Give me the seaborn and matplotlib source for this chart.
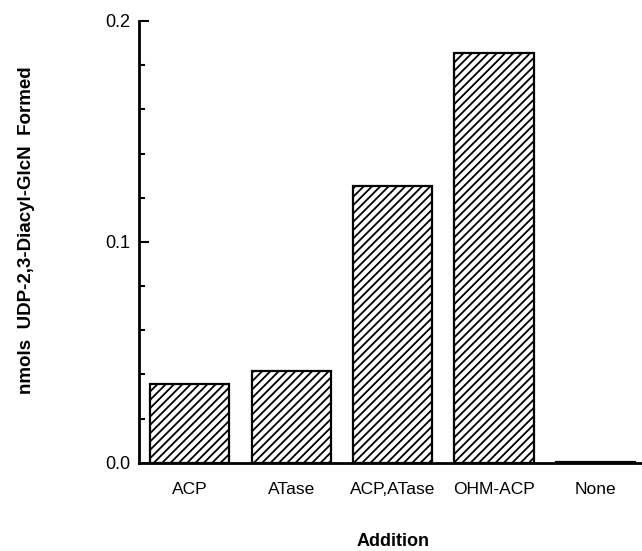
import numpy as np
import pandas as pd
import matplotlib
matplotlib.use("Agg")
import matplotlib.pyplot as plt
from matplotlib.ticker import MultipleLocator
import seaborn as sns

# ------------------ Data ------------------
additions = ["ACP", "ATase", "ACP,ATase", "OHM-ACP", "None"]
formed = [0.0357, 0.0415, 0.1253, 0.1854, 0.0006]

df = pd.DataFrame({"Addition": additions, "Formed": formed})

# ------------------ Plot ------------------
sns.set_style("ticks")
plt.rcParams["font.family"] = ["Liberation Sans", "DejaVu Sans"]
plt.rcParams["hatch.linewidth"] = 1.3
plt.rcParams["text.color"] = "black"
plt.rcParams["axes.labelcolor"] = "black"
plt.rcParams["xtick.color"] = "black"
plt.rcParams["ytick.color"] = "black"

fig = plt.figure(figsize=(6.42, 5.51), dpi=100)
ax = fig.add_axes([0.2165, 0.16, 0.79, 0.802])

sns.barplot(data=df, x="Addition", y="Formed", order=additions, ax=ax,
            color="white", edgecolor="black", linewidth=1.6, width=0.78,
            hatch="////", saturation=1)

ax.set_xlim(-0.5, 4.5)
ax.set_ylim(0, 0.2)
ax.yaxis.set_major_locator(MultipleLocator(0.1))
ax.yaxis.set_minor_locator(MultipleLocator(0.02))
ax.yaxis.set_major_formatter(plt.FuncFormatter(lambda v, p: f"{v:.1f}"))

ax.tick_params(axis="y", which="major", direction="in", length=7, width=1.5,
               labelsize=13, pad=6)
ax.tick_params(axis="y", which="minor", direction="in", length=4, width=1.5)
ax.tick_params(axis="x", length=0, labelsize=12.5, pad=14)

for side in ["top", "right"]:
    ax.spines[side].set_visible(False)
for side in ["left", "bottom"]:
    ax.spines[side].set_linewidth(2)
    ax.spines[side].set_color("black")

ax.set_xlabel("Addition", fontsize=13, fontweight="bold", labelpad=26)
ax.set_ylabel("nmols  UDP-2,3-Diacyl-GlcN  Formed", fontsize=13.5,
              fontweight="bold")
ax.yaxis.set_label_coords(-0.205, 0.527)

fig.savefig("out.png", dpi=100)
